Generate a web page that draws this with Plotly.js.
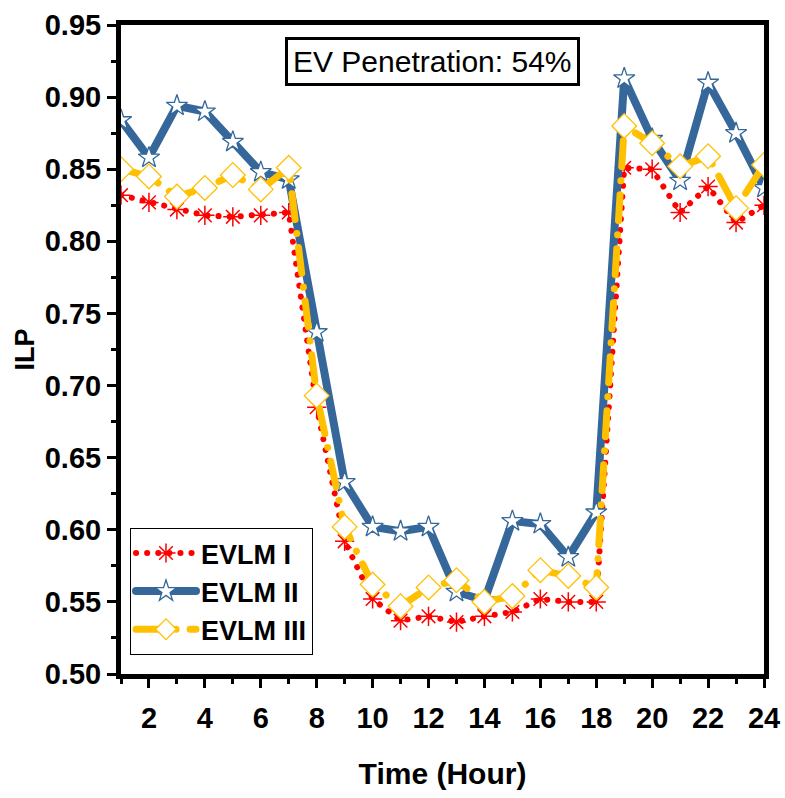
<!DOCTYPE html>
<html>
<head>
<meta charset="utf-8">
<script src="https://cdn.plot.ly/plotly-3.0.1.min.js"></script>
<style>
html,body{margin:0;padding:0;background:#fff;}
#chart{width:785px;height:798px;}
.js-line{stroke-linecap:round !important;stroke-linejoin:round !important;}
</style>
</head>
<body>
<div id="chart"></div>
<script>
const hours = [1,2,3,4,5,6,7,8,9,10,11,12,13,14,15,16,17,18,19,20,21,22,23,24];
const evlm1 = [0.832,0.827,0.822,0.818,0.817,0.818,0.820,0.685,0.592,0.552,0.537,0.540,0.536,0.540,0.543,0.552,0.550,0.550,0.851,0.850,0.820,0.838,0.813,0.825];
const evlm2 = [0.884,0.858,0.894,0.890,0.869,0.848,0.843,0.737,0.633,0.602,0.599,0.602,0.557,0.551,0.606,0.604,0.581,0.612,0.913,0.871,0.842,0.910,0.875,0.837];
const evlm3 = [0.850,0.845,0.831,0.837,0.846,0.836,0.851,0.693,0.602,0.562,0.547,0.560,0.565,0.550,0.554,0.572,0.568,0.560,0.880,0.868,0.852,0.859,0.823,0.853];
const seriesNames = ['EVLM I','EVLM II','EVLM III'];
const xTickVals = [2,4,6,8,10,12,14,16,18,20,22,24];
const yTickVals = [0.50,0.55,0.60,0.65,0.70,0.75,0.80,0.85,0.90,0.95];
const annotationText = 'EV Penetration: 54%';

const SANS = '"Liberation Sans", Arial, sans-serif';

const traces = [
  {
    x: hours, y: evlm1, name: seriesNames[0], type: 'scatter', mode: 'lines+markers', legendgroup: 'a',
    line: {color: '#ff0000', width: 6, dash: '0.1px,11px'},
    marker: {symbol: 'asterisk-open', size: 16, color: '#ff0000', line: {color: '#ff0000', width: 1.5}}
  },
  {
    x: hours, y: evlm2, name: seriesNames[1], type: 'scatter', mode: 'lines+markers', legendgroup: 'b',
    line: {color: '#35679a', width: 8},
    marker: {symbol: 'star', size: 16, color: '#ffffff', line: {color: '#35679a', width: 1.3}}
  },
  {
    x: hours, y: evlm3, name: seriesNames[2], type: 'scatter', mode: 'lines+markers', legendgroup: 'c',
    line: {color: '#ffc000', width: 7, dash: '26px,14px,0.1px,14px'},
    marker: {symbol: 'diamond', size: 19, color: '#ffffff', line: {color: '#ffc000', width: 1.3}}
  }
];

const layout = {
  width: 785, height: 798,
  margin: {l: 121, r: 21, t: 25, b: 124},
  paper_bgcolor: '#ffffff', plot_bgcolor: '#ffffff',
  showlegend: true,
  legend: {
    x: 0.014, y: 0.225, xanchor: 'left', yanchor: 'top',
    bgcolor: '#ffffff', bordercolor: '#000000', borderwidth: 1,
    font: {family: SANS, size: 27, color: '#000', weight: 'bold'},
    itemwidth: 60, tracegroupgap: 6, traceorder: 'normal'
  },
  xaxis: {
    range: [1, 24], tickvals: xTickVals, ticktext: xTickVals.map(String),
    showline: true, linecolor: '#000', linewidth: 5, mirror: true,
    ticks: 'outside', ticklen: 9, tickwidth: 3, tickcolor: '#000',
    minor: {dtick: 1, tick0: 1, ticks: 'outside', ticklen: 5, tickwidth: 3, tickcolor: '#000'},
    showgrid: false, zeroline: false, ticklabelstandoff: 5,
    tickfont: {family: SANS, size: 29, color: '#000', weight: 'bold'},
    title: {text: 'Time (Hour)', font: {family: SANS, size: 30, color: '#000', weight: 'bold'}, standoff: 32}
  },
  yaxis: {
    range: [0.50, 0.95], tickvals: yTickVals, ticktext: yTickVals.map(v => v.toFixed(2)),
    showline: true, linecolor: '#000', linewidth: 5, mirror: true,
    ticks: 'outside', ticklen: 9, tickwidth: 3, tickcolor: '#000',
    minor: {dtick: 0.025, tick0: 0.5, ticks: 'outside', ticklen: 5, tickwidth: 3, tickcolor: '#000'},
    showgrid: false, zeroline: false,
    tickfont: {family: SANS, size: 29, color: '#000', weight: 'bold'},
    title: {text: 'ILP', font: {family: SANS, size: 27, color: '#000', weight: 'bold'}, standoff: 4}
  },
  annotations: [{
    text: annotationText, xref: 'paper', yref: 'paper', x: 0.484, y: 0.943,
    xanchor: 'center', yanchor: 'middle', showarrow: false,
    font: {family: SANS, size: 30, color: '#000'},
    bordercolor: '#000', borderwidth: 3, borderpad: 5, bgcolor: '#ffffff'
  }]
};

Plotly.newPlot('chart', traces, layout, {displayModeBar: false, staticPlot: true});
</script>
</body>
</html>
